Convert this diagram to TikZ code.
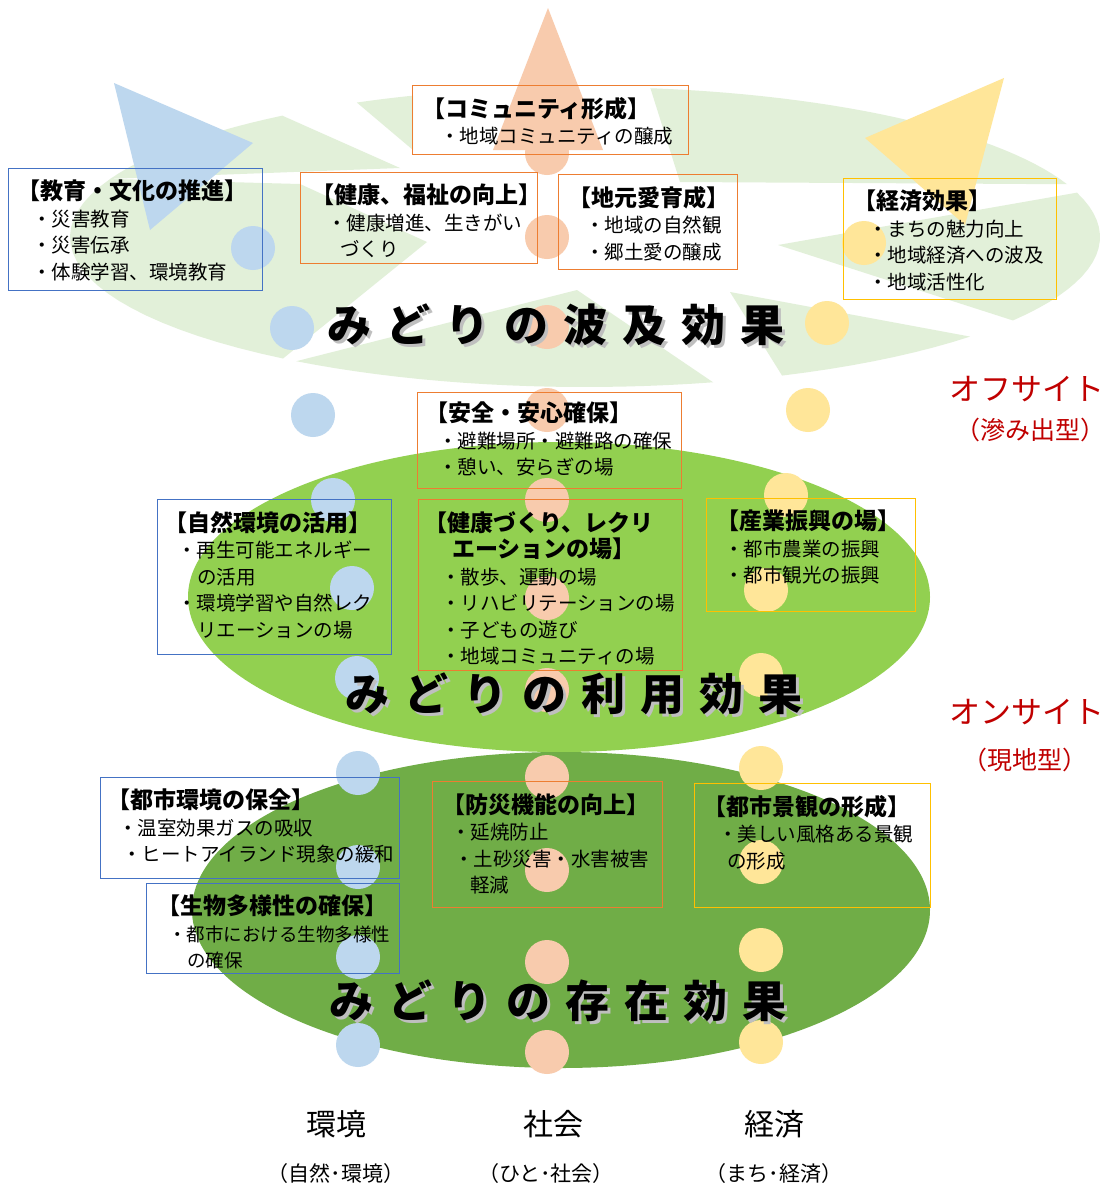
\documentclass[tikz,border=0pt]{standalone}
\usepackage{fontspec}
\usepackage{tikz}
\usepackage{xcolor}
\setmainfont{Noto Sans CJK JP}

\definecolor{ringgreen}{HTML}{E2F0D9}
\definecolor{usegreen}{HTML}{92D050}
\definecolor{basegreen}{HTML}{70AD47}
\definecolor{envblue}{HTML}{BDD7EE}
\definecolor{socorange}{HTML}{F8CBAD}
\definecolor{ecoyellow}{HTML}{FFE699}
\definecolor{lineblue}{HTML}{4472C4}
\definecolor{lineorange}{HTML}{ED7D31}
\definecolor{lineyellow}{HTML}{FFC000}
\definecolor{sitered}{HTML}{C00000}

\tikzset{
    effect-box/.style = {draw, line width=1pt, rectangle, anchor=north west, inner sep=0pt},
    effect-text/.style = {anchor=north west, align=left, inner sep=0pt, font=\fontsize{19.5}{26.5}\selectfont},
    bead/.style = {circle, minimum size=44pt, inner sep=0pt},
    big-title/.style = {font=\bfseries\fontsize{44}{44}\selectfont, inner sep=0pt, text height=38pt, text depth=6pt},
    site-label/.style = {text=sitered, font=\fontsize{31}{31}\selectfont, inner sep=0pt},
    site-sub/.style = {text=sitered, font=\fontsize{25}{25}\selectfont, inner sep=0pt},
    axis-label/.style = {font=\fontsize{30}{30}\selectfont, inner sep=0pt},
    axis-sub/.style = {font=\fontsize{21}{21}\selectfont, inner sep=0pt},
}
\newcommand{\boxtitle}[1]{{\bfseries\fontsize{23}{26.5}\selectfont #1}}

\begin{document}
\begin{tikzpicture}[x=1pt, y=-1pt]
\useasboundingbox (0,0) rectangle (1110,1187);
\fill[white] (0,0) rectangle (1110,1187);

% ring of the spill-over effect
\fill[ringgreen] plot[domain=243.7:250.5, samples=5] ({585+515*cos(\x)},{237+150*sin(\x)}) -- (413,150) -- cycle;
\fill[ringgreen] plot[domain=202.8:234, samples=15] ({585+515*cos(\x)},{237+150*sin(\x)}) -- (400,168) -- cycle;
\fill[ringgreen] plot[domain=277.3:339.4, samples=30] ({585+515*cos(\x)},{237+150*sin(\x)}) -- (680,182) -- cycle;
\fill[ringgreen] (778,245) -- plot[domain=342.8:393.8, samples=20] ({585+515*cos(\x)},{237+150*sin(\x)}) -- cycle;
\fill[ringgreen] (730,292) -- plot[domain=41.6:67.5, samples=10] ({585+515*cos(\x)},{237+150*sin(\x)}) -- cycle;
\fill[ringgreen] (577,290) -- plot[domain=75.6:124.1, samples=20] ({585+515*cos(\x)},{237+150*sin(\x)}) -- cycle;
\fill[ringgreen] (300,184) -- (427,242) -- plot[domain=125.9:202.8, samples=25] ({585+515*cos(\x)},{237+150*sin(\x)}) -- cycle;

% use and existence
\fill[usegreen] (559,597) ellipse [x radius=371pt, y radius=155pt];
\fill[basegreen] (561,910) ellipse [x radius=369pt, y radius=158pt];

% arrow heads
\fill[envblue] (114,83) -- (253,143) -- (150,230) -- cycle;
\fill[socorange] (548,8) -- (603,150) -- (493,150) -- cycle;
\fill[ecoyellow] (1004,78) -- (965,225) -- (865,138) -- cycle;

% three chains of beads
\foreach \x/\y [count=\i] in {253/248, 292/328, 313/415, 333/500, 352/588, 357/678, 358/773, 358/867, 358/957, 358/1045}
    \node[bead, fill=envblue] (env-\i) at (\x,\y) {};
\foreach \y [count=\i] in {153, 237, 327, 410, 500, 598, 690, 777, 870, 962, 1052}
    \node[bead, fill=socorange] (soc-\i) at (547,\y) {};
\foreach \x/\y [count=\i] in {864/243, 827/323, 808/410, 786/495, 766/590, 761/675, 761/768, 761/862, 761/950, 761/1042}
    \node[bead, fill=ecoyellow] (eco-\i) at (\x,\y) {};

% spill-over boxes
\node[effect-box, draw=lineblue, minimum width=254, minimum height=122] (kyoiku) at (8,168) {};
\node[effect-text] (kyoiku-text) at ([shift={(9,12)}]kyoiku.north west) {\boxtitle{【教育・文化の推進】}\\\hspace*{15pt}・災害教育\\\hspace*{15pt}・災害伝承\\\hspace*{15pt}・体験学習、環境教育};

\node[effect-box, draw=lineorange, minimum width=237, minimum height=91] (fukushi) at (300,172) {};
\node[effect-text] (fukushi-text) at ([shift={(11,12)}]fukushi.north west) {\boxtitle{【健康、福祉の向上】}\\\hspace*{16pt}・健康増進、生きがい\\\hspace*{29pt}づくり};

\node[effect-box, draw=lineorange, minimum width=276, minimum height=69] (community) at (412,85) {};
\node[effect-text] (community-text) at ([shift={(10,12)}]community.north west) {\boxtitle{【コミュニティ形成】}\\\hspace*{18pt}・地域コミュニティの醸成};

\node[effect-box, draw=lineorange, minimum width=179, minimum height=95] (jimoto) at (558,174) {};
\node[effect-text] (jimoto-text) at ([shift={(10,12)}]jimoto.north west) {\boxtitle{【地元愛育成】}\\\hspace*{17pt}・地域の自然観\\\hspace*{17pt}・郷土愛の醸成};

\node[effect-box, draw=lineyellow, minimum width=213, minimum height=121] (keizai-box) at (843,178) {};
\node[effect-text] (keizai-text) at ([shift={(10,12)}]keizai-box.north west) {\boxtitle{【経済効果】}\\\hspace*{15pt}・まちの魅力向上\\\hspace*{15pt}・地域経済への波及\\\hspace*{15pt}・地域活性化};

% use boxes
\node[effect-box, draw=lineorange, minimum width=264, minimum height=96] (anzen) at (417,392) {};
\node[effect-text] (anzen-text) at ([shift={(8,10)}]anzen.north west) {\boxtitle{【安全・安心確保】}\\\hspace*{13pt}・避難場所・避難路の確保\\\hspace*{13pt}・憩い、安らぎの場};

\node[effect-box, draw=lineblue, minimum width=234, minimum height=155] (shizen) at (157,499) {};
\node[effect-text] (shizen-text) at ([shift={(7,12)}]shizen.north west) {\boxtitle{【自然環境の活用】}\\\hspace*{13pt}・再生可能エネルギー\\\hspace*{33pt}の活用\\\hspace*{13pt}・環境学習や自然レク\\\hspace*{33pt}リエーションの場};

\node[effect-box, draw=lineorange, minimum width=264, minimum height=171] (recre) at (418,499) {};
\node[effect-text] (recre-text) at ([shift={(6,12)}]recre.north west) {\boxtitle{【健康づくり、レクリ}\\\boxtitle{\hspace*{28pt}エーションの場】}\\\hspace*{17pt}・散歩、運動の場\\\hspace*{17pt}・リハビリテーションの場\\\hspace*{17pt}・子どもの遊び\\\hspace*{17pt}・地域コミュニティの場};

\node[effect-box, draw=lineyellow, minimum width=209, minimum height=113] (sangyo) at (706,498) {};
\node[effect-text] (sangyo-text) at ([shift={(10,12)}]sangyo.north west) {\boxtitle{【産業振興の場】}\\\hspace*{8pt}・都市農業の振興\\\hspace*{8pt}・都市観光の振興};

% existence boxes
\node[effect-box, draw=lineblue, minimum width=299, minimum height=101] (toshi-env) at (100,777) {};
\node[effect-text] (toshi-env-text) at ([shift={(7,12)}]toshi-env.north west) {\boxtitle{【都市環境の保全】}\\\hspace*{11pt}・温室効果ガスの吸収\\\hspace*{15pt}・ヒートアイランド現象の緩和};

\node[effect-box, draw=lineblue, minimum width=253, minimum height=90] (seibutsu) at (146,883) {};
\node[effect-text, font=\fontsize{18.5}{26.5}\selectfont] (seibutsu-text) at ([shift={(11,12)}]seibutsu.north west) {\boxtitle{【生物多様性の確保】}\\\hspace*{11pt}・都市における生物多様性\\\hspace*{30pt}の確保};

\node[effect-box, draw=lineorange, minimum width=230, minimum height=126] (bousai) at (432,781) {};
\node[effect-text] (bousai-text) at ([shift={(10,12)}]bousai.north west) {\boxtitle{【防災機能の向上】}\\\hspace*{9pt}・延焼防止\\\hspace*{12pt}・土砂災害・水害被害\\\hspace*{28pt}軽減};

\node[effect-box, draw=lineyellow, minimum width=236, minimum height=124] (keikan) at (694,783) {};
\node[effect-text] (keikan-text) at ([shift={(9,12)}]keikan.north west) {\boxtitle{【都市景観の形成】}\\\hspace*{15pt}・美しい風格ある景観\\\hspace*{24pt}の形成};

% layer titles
\foreach \c [count=\i from 0] in {み,ど,り,の,波,及,効,果} {
    \node[big-title, text=black!25] (hakyu-s\i) at ({352+59*\i},328) {\c};
    \node[big-title] (hakyu-\i) at ({349+59*\i},325) {\c};
}
\foreach \c [count=\i from 0] in {み,ど,り,の,利,用,効,果} {
    \node[big-title, text=black!25] (riyo-s\i) at ({370+59*\i},697) {\c};
    \node[big-title] (riyo-\i) at ({367+59*\i},694) {\c};
}
\foreach \c [count=\i from 0] in {み,ど,り,の,存,在,効,果} {
    \node[big-title, text=black!25] (sonzai-s\i) at ({354+59*\i},1004) {\c};
    \node[big-title] (sonzai-\i) at ({351+59*\i},1001) {\c};
}

% site labels
\node[site-label] (offsite) at (1027,389) {オフサイト};
\node[site-sub] (offsite-sub) at (1030,430) {（滲み出型）};
\node[site-label] (onsite) at (1027,712) {オンサイト};
\node[site-sub] (onsite-sub) at (1025,760) {（現地型）};

% three axes
\node[axis-label] (kankyo) at (336,1124) {環境};
\node[axis-label] (shakai) at (553,1124) {社会};
\node[axis-label] (keizai) at (774,1124) {経済};
\node[axis-sub] (kankyo-sub) at (336,1174) {（自然･環境）};
\node[axis-sub] (shakai-sub) at (546,1174) {（ひと･社会）};
\node[axis-sub] (keizai-sub) at (774,1174) {（まち･経済）};
\end{tikzpicture}
\end{document}
